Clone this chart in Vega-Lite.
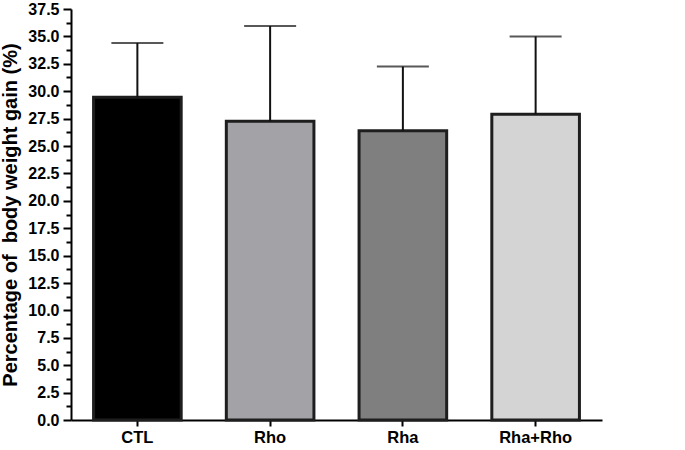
{
  "$schema": "https://vega.github.io/schema/vega-lite/v6.json",
  "width": 531,
  "height": 411,
  "autosize": "none",
  "padding": {"left": 71, "top": 9, "right": 83, "bottom": 30},
  "background": "white",
  "config": {
    "view": {"stroke": null},
    "font": "Liberation Sans"
  },
  "data": {"values": [
    {"group": "CTL", "mean": 29.45, "upper": 34.4},
    {"group": "Rho", "mean": 27.25, "upper": 35.95},
    {"group": "Rha", "mean": 26.4, "upper": 32.25},
    {"group": "Rha+Rho", "mean": 27.9, "upper": 35.0}
  ]},
  "encoding": {
    "x": {
      "field": "group", "type": "nominal", "sort": null,
      "scale": {"paddingInner": 0.34, "paddingOuter": 0.17},
      "axis": {
        "title": null, "labelAngle": 0, "labelFont": "Liberation Sans", "labelFontSize": 16.5, "labelFontWeight": "bold",
        "labelColor": "#000", "domainColor": "#000", "domainWidth": 2, "tickColor": "#000", "tickWidth": 2, "tickSize": 6, "labelPadding": 3
      }
    }
  },
  "layer": [
    {
      "mark": {"type": "bar", "stroke": "#1e1e1e", "strokeWidth": 3},
      "encoding": {
        "y": {
          "field": "mean", "type": "quantitative",
          "scale": {"domain": [0, 37.5], "nice": false, "zero": true},
          "axis": {
            "title": "Percentage of \u00a0body weight gain (%)",
            "titleFont": "Liberation Sans", "titleFontSize": 20, "titleFontWeight": "bold", "titleColor": "#000", "titlePadding": 7,
            "labelFont": "Liberation Sans", "labelFontSize": 16, "labelFontWeight": "bold", "labelColor": "#000", "labelPadding": 4,
            "domainColor": "#000", "domainWidth": 2, "tickColor": "#000", "tickWidth": 2,
            "grid": false, "labelOverlap": false, "labelBound": false, "labelFlush": false,
            "values": [0, 1.25, 2.5, 3.75, 5, 6.25, 7.5, 8.75, 10, 11.25, 12.5, 13.75, 15, 16.25, 17.5, 18.75, 20, 21.25, 22.5, 23.75, 25, 26.25, 27.5, 28.75, 30, 31.25, 32.5, 33.75, 35, 36.25, 37.5],
            "labelExpr": "datum.value % 2.5 == 0 ? format(datum.value, '.1f') : ''",
            "tickSize": {"condition": {"test": "datum.value % 2.5 == 0", "value": 8}, "value": 5}
          }
        },
        "color": {
          "field": "group", "type": "nominal", "legend": null,
          "scale": {"domain": ["CTL", "Rho", "Rha", "Rha+Rho"], "range": ["#000000", "#a3a2a7", "#7f7f7f", "#d4d4d4"]}
        }
      }
    },
    {
      "mark": {"type": "rule", "color": "#111", "strokeWidth": 2},
      "encoding": {
        "y": {
          "field": "mean", "type": "quantitative",
          "scale": {"domain": [0, 37.5], "nice": false, "zero": true},
          "axis": {
            "title": "Percentage of \u00a0body weight gain (%)",
            "titleFont": "Liberation Sans", "titleFontSize": 20, "titleFontWeight": "bold", "titleColor": "#000", "titlePadding": 7,
            "labelFont": "Liberation Sans", "labelFontSize": 16, "labelFontWeight": "bold", "labelColor": "#000", "labelPadding": 4,
            "domainColor": "#000", "domainWidth": 2, "tickColor": "#000", "tickWidth": 2,
            "grid": false, "labelOverlap": false, "labelBound": false, "labelFlush": false,
            "values": [0, 1.25, 2.5, 3.75, 5, 6.25, 7.5, 8.75, 10, 11.25, 12.5, 13.75, 15, 16.25, 17.5, 18.75, 20, 21.25, 22.5, 23.75, 25, 26.25, 27.5, 28.75, 30, 31.25, 32.5, 33.75, 35, 36.25, 37.5],
            "labelExpr": "datum.value % 2.5 == 0 ? format(datum.value, '.1f') : ''",
            "tickSize": {"condition": {"test": "datum.value % 2.5 == 0", "value": 8}, "value": 5}
          }
        },
        "y2": {"field": "upper"}
      }
    },
    {
      "mark": {"type": "tick", "color": "#111", "thickness": 2, "size": 52},
      "encoding": {
        "y": {
          "field": "upper", "type": "quantitative",
          "scale": {"domain": [0, 37.5], "nice": false, "zero": true},
          "axis": {
            "title": "Percentage of \u00a0body weight gain (%)",
            "titleFont": "Liberation Sans", "titleFontSize": 20, "titleFontWeight": "bold", "titleColor": "#000", "titlePadding": 7,
            "labelFont": "Liberation Sans", "labelFontSize": 16, "labelFontWeight": "bold", "labelColor": "#000", "labelPadding": 4,
            "domainColor": "#000", "domainWidth": 2, "tickColor": "#000", "tickWidth": 2,
            "grid": false, "labelOverlap": false, "labelBound": false, "labelFlush": false,
            "values": [0, 1.25, 2.5, 3.75, 5, 6.25, 7.5, 8.75, 10, 11.25, 12.5, 13.75, 15, 16.25, 17.5, 18.75, 20, 21.25, 22.5, 23.75, 25, 26.25, 27.5, 28.75, 30, 31.25, 32.5, 33.75, 35, 36.25, 37.5],
            "labelExpr": "datum.value % 2.5 == 0 ? format(datum.value, '.1f') : ''",
            "tickSize": {"condition": {"test": "datum.value % 2.5 == 0", "value": 8}, "value": 5}
          }
        }
      }
    }
  ]
}
